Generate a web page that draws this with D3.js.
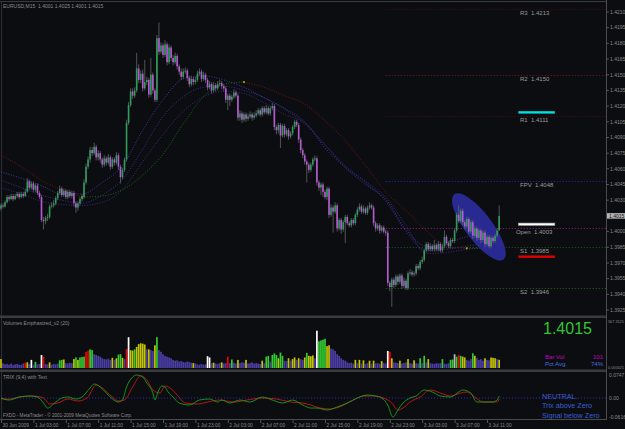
<!DOCTYPE html>
<html>
<head>
<meta charset="utf-8">
<script src="https://cdn.jsdelivr.net/npm/d3@7"></script>
<style>
  html, body { margin: 0; padding: 0; background: #0c0d10; }
  svg { display: block; font-family: "Liberation Sans", Arial, sans-serif; }
  text { white-space: pre; }
</style>
</head>
<body>
<svg id="chart" width="625" height="429"></svg>
<script>
'use strict';

// ---- data: EURUSD M15, prices in pips above 1.4000 ----
const firstOpen = 22;
const closePips = [
  25,24,28,33,31,34,31,34,36,33, 36,34,38,48,42,46,40,44,37,33,
  11,10,13,14,24,25,27,32,37,41, 35,39,33,38,34,37,27,23,27,31,
  33,47,62,69,78,75,81,71,75,69, 64,70,66,71,62,69,66,73,62,52,
  59,69,104,121,134,130,135,156,145,151, 137,143,145,131,150,135,126,185,172,178,
  169,179,162,176,166,162,168,158,153,148, 153,154,147,141,146,143,145,151,153,146,
  150,145,138,141,135,140,137,141,142,139, 137,126,130,126,129,133,130,109,113,107,
  112,108,110,112,109,111,113,116,112,118, 114,118,113,118,120,100,97,102,92,101,
  93,97,91,94,100,105,102,88,78,73, 67,64,59,64,69,70,47,42,45,38,
  33,41,16,23,19,25,3,11,2,9, 14,8,6,11,8,16,21,24,19,22,
  18,23,25,23,8,3,6,1,4,0, -1,-49,-53,-46,-51,-43,-48,-42,-52,-47,
  -54,-40,-39,-41,-40,-33,-35,-29,-27,-18, -12,-17,-14,-17,-13,-17,-12,-18,-14,-5,
  -11,-14,-8,-9,1,16,10,20,9,5, 12,0,9,-4,3,-6,1,-8,-1,-12,
  -5,-14,-6,-9,-4,1,15
];
const highPips = [
  27,27,30,35,35,36,36,36,38,38, 38,38,41,51,50,48,48,46,46,39,
  35,14,15,17,26,28,30,34,39,44, 43,41,41,40,40,39,39,29,29,33,
  36,50,65,72,81,81,85,83,78,77, 71,73,72,74,73,71,71,76,75,64,
  61,71,107,124,137,137,138,171,160,154, 155,164,148,147,166,152,137,188,200,181,
  180,183,181,179,178,169,171,170,160,156, 156,157,156,149,149,148,148,154,156,155,
  153,152,147,144,143,143,142,144,145,144, 141,139,132,132,131,136,135,132,116,115,
  114,114,113,115,114,114,116,118,118,120, 120,121,120,120,123,122,102,104,104,103,
  103,99,99,96,102,107,107,104,90,80, 75,69,66,66,71,73,72,49,47,47,
  40,43,43,26,25,28,27,13,13,11, 16,16,10,13,13,18,23,27,26,25,
  24,25,28,27,25,10,8,8,6,6, 2,1,-47,-44,-44,-41,-41,-40,-40,-44,
  -45,-38,-36,-37,-38,-31,-31,-27,-24,-16, -10,-10,-11,-12,-8,-11,-9,-10,-12,1,
  -3,-9,-6,-6,3,18,25,22,22,11, 14,14,11,11,5,5,3,3,1,1,
  -3,-3,-4,-4,-2,3,25
];
const lowPips = [
  20,22,23,27,29,30,29,30,32,31, 32,32,33,37,40,40,38,38,35,31,
  9,2,7,10,12,22,23,25,30,35, 33,33,31,31,32,32,24,18,20,25,
  29,31,45,60,66,72,73,68,68,66, 61,62,63,64,59,60,63,64,59,46,
  50,57,67,102,119,127,128,133,142,142, 134,135,140,128,129,132,124,124,169,170,
  166,167,159,160,163,159,160,155,150,145, 146,151,144,138,139,140,141,143,149,143,
  144,142,135,136,132,133,134,135,139,136, 134,123,116,120,124,127,128,106,106,104,
  105,105,106,108,106,107,109,111,110,110, 112,112,111,111,116,97,93,94,80,90,
  90,91,88,89,92,98,100,85,75,70, 64,47,56,57,62,67,44,39,35,33,
  31,30,13,14,-1,17,0,1,-2,0, -11,6,4,4,6,6,14,19,17,17,
  16,16,21,21,5,0,1,-2,-1,-2, -4,-52,-57,-72,-54,-53,-51,-50,-55,-54,
  -56,-56,-42,-43,-43,-42,-37,-37,-31,-29, -20,-19,-19,-19,-19,-19,-19,-20,-20,-16,
  -13,-16,-16,-11,-11,-1,8,8,6,2, 3,-2,-2,-7,-6,-9,-8,-11,-10,-15,
  -14,-16,-16,-11,-11,-6,1
];

const volumes = [
  110,60,45,50,40,55,35,45,50,40, 38,55,65,70,50,100,40,75,45,50,
  160,140,50,45,70,40,50,45,55,95, 100,105,60,55,65,60,110,130,100,130,
  135,140,200,215,230,220,170,160,150,140, 120,110,105,115,100,125,100,120,165,170,
  125,110,235,380,220,215,230,260,295,305, 300,290,230,230,220,210,280,380,220,200,
  170,150,140,130,120,100,90,95,80,85, 75,70,80,75,65,60,55,45,40,50,
  40,45,145,130,60,65,55,50,60,70, 55,60,140,60,105,65,55,100,60,70,
  65,100,55,60,70,55,60,55,50,90, 60,140,150,80,160,180,160,120,190,150,
  90,85,120,90,110,130,100,120,110,100, 130,185,150,145,155,120,460,330,340,350,
  360,270,280,240,230,210,170,150,120,100, 90,70,60,65,55,100,60,100,55,95,
  50,60,90,50,90,55,60,50,85,60, 55,210,200,120,70,65,60,90,55,60,
  70,110,60,55,95,60,55,120,60,150, 70,110,60,55,50,60,55,60,110,55,
  50,60,100,105,170,140,160,150,140,130, 100,90,110,180,150,120,100,110,90,120,
  100,95,130,125,120,110,101
];
// b blue, y yellow, g green, r red, w white, s silver
const volumeColours =
  "ybbbbbbbbb" + "bbrybwbgbb" + "wrbbybbbbg" + "gybbbbygyg" + "ggrrggbbbb" +
  "bbbbbybygg" + "ybrwyygyyy" + "yybybbygbb" + "bbbbbbbbbb" + "bbbbbybbbb" +
  "bbwwbybbby" + "bbrbgbbybb" + "bybbbbbbby" + "bggbgggygg" + "bbybyybybb" +
  "ygyyybwggg" + "gyybbbbbbb" + "bbbbbybyby" + "bbybybbbyb" + "bwrybbbybb" +
  "bybbybbgbg" + "bybbbbbbgb" + "bbggsgrgyy" + "bbbgybbbby" + "bbyyyby";

const trixBars = [0,4,9,14,18,21,23,27,30,33,37,40,44,46,49,52,55,58,60,62,
  65,67,70,72,75,76,77.5,79.5,81,82.5,85,88,93,98,103,107,109,113,118,123,
  129,134,139,144,149,153,156,161,166,171,176,181,185,188,191,193.5,196,198.5,202,205,
  209,213,217,222,226,228,232,235,238,242.5,245,246];
const trixValues = [0,-0.0065,0.0032,0.0065,0.0032,-0.0162,-0.0325,-0.013,0,0.0032,
  -0.0032,0.0032,0.0325,0.0455,0.0357,0.0162,-0.0032,-0.013,-0.0065,0.0357,
  0.0682,0.0747,0.0682,0.0487,0.0162,-0.0065,0.0195,0.039,0.0357,0.0195,
  0.0032,-0.0162,-0.0227,-0.0065,-0.0032,-0.013,-0.0065,-0.0162,-0.0065,-0.013,
  0.0032,-0.0065,-0.0162,-0.0065,-0.0227,-0.0325,-0.0325,-0.039,-0.0292,-0.0162,
  0,0.0097,0.0065,0,-0.0227,-0.0616,-0.039,-0.0162,0,0.0065,
  0.026,0.0195,0.0065,0.0032,0.0195,0.026,0.0162,-0.013,-0.013,-0.013,-0.0065,0.0065];
const signalBars = [0,4,9,16,21,24,28,33,38,42.5,47,50,55,58,61,65,69,72,75,78.5,
  81,83.5,87,91,97,102,108,115,121.5,129,136,143,149,153,157.5,162.5,167,174,179,184,
  189,193,196,198.5,202,207,212,217,222,227,230,234,238,245,246];
const signalValues = [-0.0032,-0.0032,0.0032,0.0065,0,-0.0195,-0.0162,-0.0032,-0.0097,0,
  0.0422,0.0325,0.0032,-0.0097,-0.0065,0.0357,0.072,0.0584,0.026,0.0162,
  0.039,0.0325,0.0097,-0.0162,-0.0195,-0.013,-0.0065,-0.013,-0.0065,0,
  -0.0032,-0.013,-0.0162,-0.0227,-0.0325,-0.0357,-0.0292,-0.0065,0.0065,0.0065,
  0,-0.0162,-0.039,-0.0325,-0.013,0.0032,0.026,0.0162,0.0065,0.0162,
  0.0195,0.0032,-0.013,-0.013,-0.0032];

// moving averages, pips above 1.4000, read every 10 bars
const maBars = [0,10,20,30,40,50,60,70,80,90,100,110,120,130,140,150,160,170,180,190,200,210,220,230,240,246];
const maFast = [57,51,44,36,36,47,63,97,126,146,149,145,138,128,118,105,80,61,45,31,2,-14,-11,-5,-2,0];
const maMid  = [49,42,35,30,27,35,50,79,110,129,138,139,135,128,117,103,83,62,47,29,0,-18,-17,-14,-11,-8];
const maSlow = [42,36,29,26,25,28,40,67,93,115,129,134,132,123,112,104,83,63,48,33,6,-21,-20,-17,-15,-13];
const maLong = [73,62,49,40,33,34,40,54,74,103,129,141,143,138,130,122,106,87,63,38,20,1,-14,-16,-16,-15];

const pivotNames  = ["R3", "R2", "R1", "FPV", "Open", "S1", "S2"];
const pivotValues = [1.4213, 1.4150, 1.4111, 1.4048, 1.4003, 1.3985, 1.3946];
const pivotStartBar = 190;
const markerLevels = [1.4114, 1.4007, 1.3976];

const priceTicks = [1.4210,1.4195,1.4180,1.4165,1.4150,1.4135,1.4120,1.4105,1.4090,1.4075,
  1.4060,1.4045,1.4030,1.4000,1.3985,1.3970,1.3955,1.3940,1.3925];
const lastPrice = 1.4015;
const timeLabels = ["30 Jun 2009","1 Jul 03:00","1 Jul 07:00","1 Jul 11:00","1 Jul 15:00",
  "1 Jul 19:00","1 Jul 23:00","2 Jul 03:00","2 Jul 07:00","2 Jul 11:00","2 Jul 15:00",
  "2 Jul 19:00","2 Jul 23:00","3 Jul 03:00","3 Jul 07:00","3 Jul 11:00"];
const timeLabelEvery = 16;

// ---- layout ----
const AXIS_X = 606;
const svg = d3.select("#chart");
const x = d3.scaleLinear().domain([0, 298.77]).range([1, AXIS_X]);
const y = d3.scaleLinear().domain([1.3925, 1.4210]).range([310, 12]);
const yVol = d3.scaleLinear().domain([0, 567.3125]).range([368, 322]);
const yTrix = d3.scaleLinear().domain([-0.0616, 0.0747]).range([417, 375]);
const px = p => 1.4 + p / 10000;

svg.append("rect").attr("width", 625).attr("height", 429).attr("fill", "#0c0d10");

// frame
svg.append("line").attr("x1", 0).attr("x2", AXIS_X).attr("y1", 1.5).attr("y2", 1.5).attr("stroke", "#3a3b3e");
svg.append("line").attr("x1", 1.5).attr("x2", 1.5).attr("y1", 1).attr("y2", 420).attr("stroke", "#2e2f32");
[315.5, 369.5].forEach(sy => {
    svg.append("rect").attr("x", 0).attr("y", sy).attr("width", AXIS_X).attr("height", 2.5).attr("fill", "#3a3b3e");
});
svg.append("line").attr("x1", AXIS_X + 0.5).attr("x2", AXIS_X + 0.5).attr("y1", 0).attr("y2", 420).attr("stroke", "#4a4b4e");
svg.append("line").attr("x1", 0).attr("x2", AXIS_X).attr("y1", 419.5).attr("y2", 419.5).attr("stroke", "#4a4b4e");

svg.append("clipPath").attr("id", "mainClip").append("rect")
    .attr("x", 0).attr("y", 2).attr("width", AXIS_X).attr("height", 313);
const main = svg.append("g").attr("clip-path", "url(#mainClip)");

// pivot lines
const pivotColour = { R3: "#4a0c0c", R2: "#8a1414", R1: "#4e1010", FPV: "#2a2ab8", Open: "#8a2a8a", S1: "#1d5e1d", S2: "#1d6a1d" };
main.selectAll("line.pivot").data(pivotNames).join("line")
    .attr("class", "pivot")
    .attr("x1", x(pivotStartBar)).attr("x2", AXIS_X)
    .attr("y1", (d, i) => Math.round(y(pivotValues[i])) + 0.5)
    .attr("y2", (d, i) => Math.round(y(pivotValues[i])) + 0.5)
    .attr("stroke", d => pivotColour[d])
    .attr("stroke-dasharray", "1,2");

// moving averages
const maLine = d3.line().x(d => x(d[0])).y(d => y(px(d[1]))).curve(d3.curveMonotoneX);
[[maFast, "#4a3cb8"], [maMid, "#3d33a6"], [maSlow, "#3a2f96"]].forEach(([vals, col]) => {
    main.append("path")
        .attr("d", maLine(maBars.map((b, i) => [b, vals[i]])))
        .attr("fill", "none").attr("stroke", col).attr("stroke-width", 0.9)
        .attr("stroke-dasharray", "1,1.6");
});

// long MA, red falling / green rising
const longPts = maBars.map((b, i) => [b, maLong[i]]);
const runs = [];
for (let i = 1; i < longPts.length; i++) {
    const up = longPts[i][1] >= longPts[i - 1][1];
    if (!runs.length || runs[runs.length - 1].up !== up) {
        runs.push({ up, pts: [longPts[i - 1]] });
    }
    runs[runs.length - 1].pts.push(longPts[i]);
}
runs.forEach(r => {
    main.append("path")
        .attr("d", maLine(r.pts))
        .attr("fill", "none").attr("stroke", r.up ? "#136a13" : "#7a1010")
        .attr("stroke-width", 1).attr("stroke-dasharray", "1,1.6");
});
runs.slice(1).forEach(r => {
    main.append("circle")
        .attr("cx", x(r.pts[0][0])).attr("cy", y(px(r.pts[0][1])))
        .attr("r", 1.1).attr("fill", "#b8a000");
});

// highlight ellipse around the last swing
main.append("ellipse")
    .attr("cx", x(236)).attr("cy", y(1.40045))
    .attr("rx", 41).attr("ry", 13.5)
    .attr("transform", `rotate(53 ${x(236)} ${y(1.40045)})`)
    .attr("fill", "#282a92");

// candles
const bars = closePips.map((c, i) => ({
    i, c, o: i ? closePips[i - 1] : firstOpen, h: highPips[i], l: lowPips[i]
}));
main.append("g").selectAll("line").data(bars).join("line")
    .attr("x1", d => x(d.i)).attr("x2", d => x(d.i))
    .attr("y1", d => y(px(d.h))).attr("y2", d => y(px(d.l)))
    .attr("stroke", "#646464").attr("stroke-width", 0.8);
main.append("g").selectAll("rect").data(bars).join("rect")
    .attr("x", d => x(d.i) - 0.8).attr("width", 1.6)
    .attr("y", d => y(px(Math.max(d.o, d.c))))
    .attr("height", d => Math.max(0.8, Math.abs(y(px(d.o)) - y(px(d.c)))))
    .attr("fill", d => d.c >= d.o ? "#2f9c5e" : "#b85ad6");

// level markers right of price
const markerStyle = [["#00e0e0", "none"], ["#ffffff", "#9a9a9a"], ["#e00000", "none"]];
main.selectAll("rect.marker").data(markerLevels).join("rect")
    .attr("class", "marker")
    .attr("x", x(255.5)).attr("width", x(273.5) - x(255.5))
    .attr("y", d => y(d) - 1.2).attr("height", 2.4)
    .attr("fill", (d, i) => markerStyle[i][0])
    .attr("stroke", (d, i) => markerStyle[i][1]).attr("stroke-width", 0.6);

// pivot labels
main.selectAll("text.pivot").data(pivotNames).join("text")
    .attr("class", "pivot")
    .attr("x", d => d === "Open" ? x(254.3) : x(256.3))
    .attr("y", (d, i) => y(pivotValues[i]) + 6)
    .attr("font-size", 6).attr("fill", "#9c9c9c")
    .text((d, i) => `${d}  ${pivotValues[i].toFixed(4)}`);

main.append("text").attr("x", 3).attr("y", 8).attr("font-size", 5).attr("fill", "#8c8c8c")
    .text("EURUSD,M15  1.4001 1.4025 1.4001 1.4015");

// price axis
const axisG = svg.append("g");
axisG.selectAll("line").data(priceTicks).join("line")
    .attr("x1", AXIS_X).attr("x2", AXIS_X + 3)
    .attr("y1", d => y(d)).attr("y2", d => y(d)).attr("stroke", "#555");
axisG.selectAll("text").data(priceTicks).join("text")
    .attr("x", 610).attr("y", d => y(d) + 1.8)
    .attr("font-size", 5).attr("fill", "#8a8a8a")
    .text(d => d.toFixed(4));
axisG.append("rect").attr("x", AXIS_X + 1).attr("y", y(lastPrice) - 2.8)
    .attr("width", 18).attr("height", 5.6).attr("fill", "#b4b4b4");
axisG.append("text").attr("x", 609).attr("y", y(lastPrice) + 1.8)
    .attr("font-size", 5).attr("fill", "#111").text(lastPrice.toFixed(4));

// volume panel
const volColour = { b: "#4b3fa6", y: "#c4c400", g: "#33cc33", r: "#ee0000", w: "#ffffff", s: "#b8b8b8" };
svg.append("g").selectAll("rect").data(volumes).join("rect")
    .attr("x", (d, i) => x(i) - 0.85).attr("width", 1.7)
    .attr("y", d => yVol(d)).attr("height", d => yVol(0) - yVol(d))
    .attr("fill", (d, i) => volColour[volumeColours[i]]);
svg.append("text").attr("x", 3).attr("y", 325).attr("font-size", 5).attr("fill", "#8c8c8c")
    .text("Volumes Emphasized_v2 (20)");
svg.append("text").attr("x", 608).attr("y", yVol(567.3125) + 1).attr("font-size", 3.8).attr("fill", "#8a8a8a").text("567.3125");
svg.append("text").attr("x", 608).attr("y", yVol(0) + 1).attr("font-size", 3.8).attr("fill", "#8a8a8a").text("0.000025");
svg.append("text").attr("x", 543).attr("y", 334).attr("font-size", 16).attr("fill", "#35c435")
    .text(lastPrice.toFixed(4));
svg.append("text").attr("x", 545).attr("y", 359).attr("font-size", 6).attr("fill", "#c400c4").text("Bar Vol");
svg.append("text").attr("x", 603).attr("y", 359).attr("font-size", 6).attr("fill", "#c400c4")
    .attr("text-anchor", "end").text(volumes[volumes.length - 1]);
svg.append("text").attr("x", 545).attr("y", 366).attr("font-size", 6).attr("fill", "#4a6ee0").text("Pct Avg.");
svg.append("text").attr("x", 603).attr("y", 366).attr("font-size", 6).attr("fill", "#4a6ee0")
    .attr("text-anchor", "end").text("74%");

// TRIX panel
svg.append("line").attr("x1", 2).attr("x2", AXIS_X).attr("y1", yTrix(0)).attr("y2", yTrix(0))
    .attr("stroke", "#2a2ab8").attr("stroke-dasharray", "1,2");
const trixLine = d3.line().x(d => x(d[0])).y(d => yTrix(d[1])).curve(d3.curveMonotoneX);
svg.append("path").attr("d", trixLine(signalBars.map((b, i) => [b, signalValues[i]])))
    .attr("fill", "none").attr("stroke", "#c81818").attr("stroke-width", 0.9);
svg.append("path").attr("d", trixLine(trixBars.map((b, i) => [b, trixValues[i]])))
    .attr("fill", "none").attr("stroke", "#18a018").attr("stroke-width", 0.9);
svg.append("text").attr("x", 3).attr("y", 379).attr("font-size", 5).attr("fill", "#8c8c8c").text("TRIX (9,4) with Text");
svg.append("text").attr("x", 3).attr("y", 417).attr("font-size", 4.6).attr("fill", "#8c8c8c")
    .text("FXDD - MetaTrader - \u00a9 2001-2009 MetaQuotes Software Corp.");
[["0.0747", 0.0747], ["0.00", 0], ["-0.0616", -0.0616]].forEach(([t, v]) => {
    svg.append("text").attr("x", 609).attr("y", yTrix(v) + 1.8).attr("font-size", 5).attr("fill", "#8a8a8a").text(t);
});
["NEUTRAL.", "Trix above Zero", "Signal below Zero"].forEach((t, i) => {
    svg.append("text").attr("x", 542).attr("y", 399 + i * 9.3).attr("font-size", 7.2)
        .attr("fill", "#3a5fd6").text(t);
});

// time axis
const timeG = svg.append("g");
timeG.selectAll("line").data(timeLabels).join("line")
    .attr("x1", (d, i) => x(i * timeLabelEvery) + 0.5).attr("x2", (d, i) => x(i * timeLabelEvery) + 0.5)
    .attr("y1", 420).attr("y2", 423).attr("stroke", "#555");
timeG.selectAll("text").data(timeLabels).join("text")
    .attr("x", (d, i) => x(i * timeLabelEvery) + 1.5).attr("y", 427)
    .attr("font-size", 4.8).attr("fill", "#8a8a8a")
    .text(d => d);
</script>
</body>
</html>
